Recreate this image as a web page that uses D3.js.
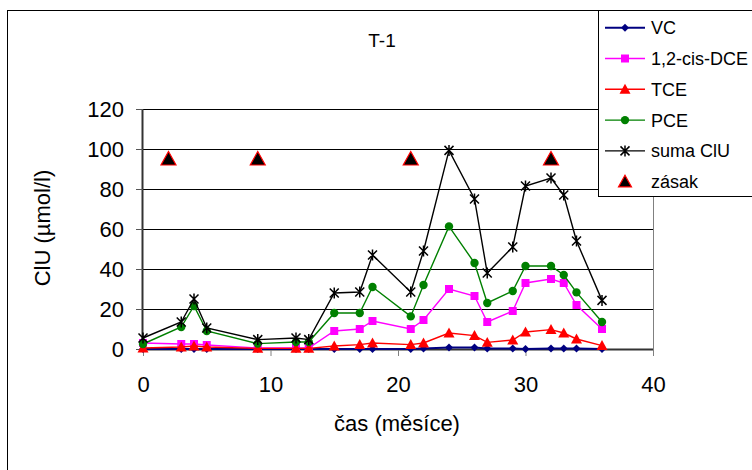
<!DOCTYPE html>
<html lang="cs">
<head>
<meta charset="utf-8">
<title>T-1</title>
<script src="https://d3js.org/d3.v7.min.js"></script>
<style>
  body { margin: 0; background: #fff; }
  text { font-family: "Liberation Sans", Arial, sans-serif; fill: #000; }
</style>
</head>
<body>
<div id="chart"></div>
<script>
// data (cas in months)
var months  = [0, 3, 4, 5, 9, 12, 13, 15, 17, 18, 21, 22, 24, 26, 27, 29, 30, 32, 33, 34, 36];
var vc      = [0, 0, 0, 0, 0, 0, 0, 0, 0, 0, 0, 0.3, 0.8, 0.8, 0.2, 0.2, 0, 0.2, 0.2, 0.3, 0];
var dce     = [3, 2.5, 2.5, 2, 0.5, 0.5, 0.5, 9, 10, 14, 10, 14.5, 30, 26.5, 13.5, 19, 33, 35, 33, 22, 10];
var tce     = [0.5, 1, 1.5, 1, 0.3, 0.3, 0.3, 1.5, 2.2, 3, 2.2, 3, 8, 6.7, 3.3, 4.5, 8.5, 9.7, 8, 5, 1.7];
var pce     = [2.5, 11, 21.5, 9, 2.7, 3.5, 3.5, 18, 18, 31, 16.3, 32, 61.3, 43, 23, 29, 41.5, 41.5, 37, 28.3, 13.5];
var sumaClU = [5.5, 13.5, 25, 10.5, 4.7, 5.5, 4.7, 28, 28.5, 47, 28.5, 49, 99.3, 75, 38, 51, 81.5, 85.5, 77, 54, 24.3];
var zasakMonths = [2, 9, 21, 32];
var zasakValue  = [95, 95, 95, 95];
var xTicks = [0, 10, 20, 30, 40];
var yTicks = [0, 20, 40, 60, 80, 100, 120];

var series = [
  {name: "VC",          values: vc,      color: "#000080", marker: "diamond"},
  {name: "1,2-cis-DCE", values: dce,     color: "#ff00ff", marker: "square"},
  {name: "TCE",         values: tce,     color: "#ff0000", marker: "triangle"},
  {name: "PCE",         values: pce,     color: "#008000", marker: "circle"},
  {name: "suma ClU",    values: sumaClU, color: "#000000", marker: "star"}
];

var W = 752, H = 470;
var margin = {top: 109, left: 143, right: 99, bottom: 121};
var width = W - margin.left - margin.right,
    height = H - margin.top - margin.bottom;

var svg = d3.select("#chart").append("svg")
    .attr("width", W).attr("height", H);

// chart frame
svg.append("rect")
    .attr("x", 7.5).attr("y", 10.5)
    .attr("width", 800).attr("height", 500)
    .attr("fill", "none").attr("stroke", "#000");

var g = svg.append("g")
    .attr("transform", "translate(" + margin.left + "," + margin.top + ")");

var x = d3.scaleLinear().domain([0, 40]).range([0, width]);
var y = d3.scaleLinear().domain([0, 120]).range([height, 0]);

// gridlines
g.selectAll(".grid").data(yTicks.filter(function(d) { return d > 0; }))
  .enter().append("line")
    .attr("x1", 0).attr("x2", width)
    .attr("y1", function(d) { return Math.round(y(d)) + 0.5; })
    .attr("y2", function(d) { return Math.round(y(d)) + 0.5; })
    .attr("stroke", "#000").attr("stroke-width", 1);

// plot area right border
g.append("line")
    .attr("x1", width + 0.5).attr("x2", width + 0.5)
    .attr("y1", 0).attr("y2", height)
    .attr("stroke", "#808080");

// axes
var yAxis = g.append("g")
    .call(d3.axisLeft(y).tickValues(yTicks).tickSize(7).tickPadding(12));
var xAxis = g.append("g")
    .attr("transform", "translate(0," + height + ")")
    .call(d3.axisBottom(x).tickValues(xTicks).tickSize(7).tickPadding(12));

[xAxis, yAxis].forEach(function(a) {
  a.select(".domain").attr("stroke", "#333").attr("stroke-width", 2);
  a.selectAll(".tick line").attr("stroke", "#555");
  a.selectAll("text")
    .style("font-family", "'Liberation Sans', Arial, sans-serif")
    .style("font-size", "22px").attr("fill", "#000");
});
xAxis.select(".domain").attr("d", "M0,0.5H" + width);
yAxis.select(".domain").attr("d", "M-0.5," + height + "V0");
xAxis.selectAll(".tick text").attr("y", 43).attr("dy", null);
xAxis.selectAll(".tick line").attr("stroke", "#808080");
yAxis.selectAll(".tick text").attr("x", -19).attr("dy", "0.36em");

// marker paths
function markerPath(type, s) {
  if (type === "diamond") return "M0," + (-s) + "L" + s + ",0L0," + s + "L" + (-s) + ",0Z";
  if (type === "square") return "M" + (-s) + "," + (-s) + "H" + s + "V" + s + "H" + (-s) + "Z";
  if (type === "triangle") return "M0," + (-s) + "L" + s + "," + (s * 0.8) + "L" + (-s) + "," + (s * 0.8) + "Z";
  if (type === "star") return "M" + (-s) + "," + (-s) + "L" + s + "," + s +
      "M" + (-s) + "," + s + "L" + s + "," + (-s) + "M0," + (-s - 1) + "V" + (s + 1);
  return null;
}

function drawMarker(sel, d, s) {
  if (d.marker === "circle") {
    sel.append("circle").attr("r", s).attr("fill", d.color);
  } else if (d.marker === "star") {
    sel.append("path").attr("d", markerPath("star", s))
      .attr("stroke", d.color).attr("stroke-width", 1.5).attr("fill", "none");
  } else {
    sel.append("path").attr("d", markerPath(d.marker, s)).attr("fill", d.color);
  }
}

var markerSize = {diamond: 4, square: 4, triangle: 5.5, circle: 4.2, star: 4.5};

var line = d3.line()
    .x(function(d) { return x(d[0]); })
    .y(function(d) { return y(d[1]); });

series.forEach(function(s) {
  var pts = months.map(function(m, i) { return [m, s.values[i]]; });
  g.append("path")
    .datum(pts)
    .attr("d", line)
    .attr("fill", "none")
    .attr("stroke", s.color)
    .attr("stroke-width", s.name === "VC" ? 2 : 1.4);
  g.append("g").selectAll("g")
    .data(pts).enter().append("g")
      .attr("transform", function(d) { return "translate(" + x(d[0]) + "," + y(d[1]) + ")"; })
      .each(function() { drawMarker(d3.select(this), s, markerSize[s.marker]); });
});

// zasak markers
var zasak = zasakMonths.map(function(m, i) { return [m, zasakValue[i]]; });
g.append("g").selectAll("path")
  .data(zasak).enter().append("path")
    .attr("transform", function(d) { return "translate(" + x(d[0]) + "," + y(d[1]) + ")"; })
    .attr("d", markerPath("triangle", 7.5))
    .attr("fill", "#000").attr("stroke", "#ff0000").attr("stroke-width", 1.2);

// title and axis titles
svg.append("text")
    .attr("x", 382).attr("y", 47)
    .attr("text-anchor", "middle")
    .style("font-size", "19px")
    .text("T-1");

svg.append("text")
    .attr("x", 397).attr("y", 431)
    .attr("text-anchor", "middle")
    .style("font-size", "22px")
    .text("čas (měsíce)");

svg.append("text")
    .attr("transform", "translate(50,228) rotate(-90)")
    .attr("text-anchor", "middle")
    .style("font-size", "22px")
    .text("ClU (µmol/l)");

// legend
var legend = svg.append("g");
legend.append("rect")
    .attr("x", 598.5).attr("y", 10.5)
    .attr("width", 200).attr("height", 186)
    .attr("fill", "#fff").attr("stroke", "#000");

var legendItems = series.concat([{name: "zásak", color: "#000", marker: "zasak"}]);
var rows = legend.selectAll(".row").data(legendItems).enter().append("g")
    .attr("transform", function(d, i) { return "translate(0," + (27.7 + i * 30.8) + ")"; });

rows.each(function(d) {
  var r = d3.select(this);
  if (d.marker !== "zasak") {
    r.append("line").attr("x1", 605).attr("x2", 645)
      .attr("stroke", d.color).attr("stroke-width", d.name === "VC" ? 2 : 1.4);
    var m = r.append("g").attr("transform", "translate(625,0)");
    drawMarker(m, d, markerSize[d.marker]);
  } else {
    r.append("path").attr("transform", "translate(625,0)")
      .attr("d", markerPath("triangle", 6.5))
      .attr("fill", "#000").attr("stroke", "#ff0000").attr("stroke-width", 1.2);
  }
  r.append("text").attr("x", 651).attr("dy", "0.36em")
    .style("font-size", "18px").text(d.name);
});
</script>
</body>
</html>
